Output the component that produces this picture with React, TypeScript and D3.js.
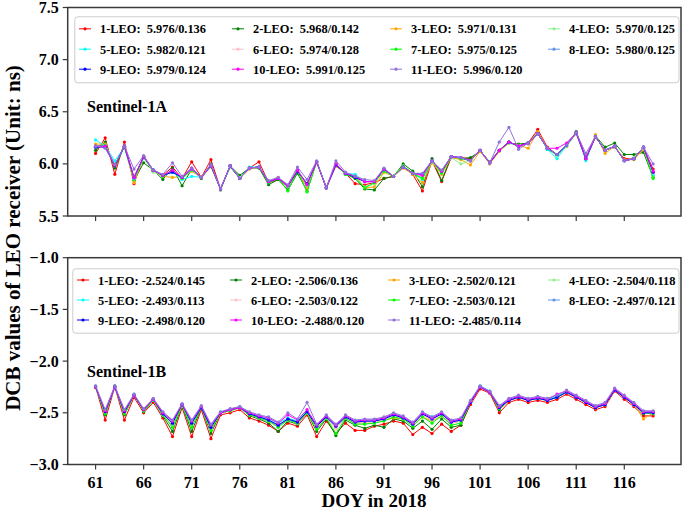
import React from 'react';
import * as d3 from 'd3';

const days = [61,62,63,64,65,66,67,68,69,70,71,72,73,74,75,76,77,78,79,80,81,82,83,84,85,86,87,88,89,90,91,92,93,94,95,96,97,98,99,100,101,102,103,104,105,106,107,108,109,110,111,112,113,114,115,116,117,118,119];
const xTicks = [61,66,71,76,81,86,91,96,101,106,111,116];
const topTicks = [5.5,6.0,6.5,7.0,7.5];
const botTicks = [-3.0,-2.5,-2.0,-1.5,-1.0];

const colors = ['#ff0000','#008000','#ffa500','#90ee90','#00ffff','#ffc0cb','#00ff00','#6495ed','#0000ff','#ff00ff','#9370db'];
const names = ['1-LEO','2-LEO','3-LEO','4-LEO','5-LEO','6-LEO','7-LEO','8-LEO','9-LEO','10-LEO','11-LEO'];
const topStats = ['5.976/0.136','5.968/0.142','5.971/0.131','5.970/0.125','5.982/0.121','5.974/0.128','5.975/0.125','5.980/0.125','5.979/0.124','5.991/0.125','5.996/0.120'];
const botStats = ['-2.524/0.145','-2.506/0.136','-2.502/0.121','-2.504/0.118','-2.493/0.113','-2.503/0.122','-2.503/0.121','-2.497/0.121','-2.498/0.120','-2.488/0.120','-2.485/0.114'];

// Sentinel-1A
const top1 = [6.10,6.25,5.90,6.21,5.81,6.07,5.93,5.89,5.97,5.86, 6.02,5.87,6.04,5.76,5.98,5.86,5.96,6.02,5.82,5.85, 5.78,5.92,5.78,6.02,5.77,5.98,5.91,5.81,5.80,5.82, 5.86,5.88,5.97,5.90,5.74,6.03,5.83,6.06,6.06,6.05, 6.12,6.01,6.13,6.21,6.17,6.20,6.33,6.16,6.09,6.18, 6.29,6.05,6.26,6.13,6.16,6.05,6.05,6.15,5.95];
const top2 = [6.13,6.21,5.96,6.17,5.84,6.01,5.94,5.85,5.96,5.79, 5.95,5.86,6.00,5.75,5.98,5.89,5.96,5.96,5.80,5.85, 5.75,5.91,5.74,6.02,5.77,6.00,5.90,5.86,5.76,5.75, 5.86,5.88,6.00,5.93,5.78,6.05,5.84,6.07,6.05,6.06, 6.12,6.02,6.13,6.20,6.19,6.20,6.30,6.14,6.09,6.17, 6.31,6.06,6.27,6.16,6.20,6.09,6.09,6.11,5.87];
const top3 = [6.19,6.19,5.98,6.17,5.82,6.06,5.93,5.88,5.87,5.88, 5.93,5.87,5.97,5.76,5.98,5.86,5.95,5.97,5.83,5.87, 5.79,5.93,5.77,6.01,5.78,5.98,5.91,5.89,5.77,5.78, 5.92,5.88,5.96,5.90,5.82,6.01,5.90,6.06,6.04,5.99, 6.12,6.00,6.12,6.20,6.18,6.15,6.31,6.15,6.08,6.17, 6.29,6.05,6.28,6.10,6.17,6.04,6.04,6.14,5.88];
const top4 = [6.16,6.18,6.00,6.16,5.85,6.06,5.92,5.89,5.92,5.87, 5.94,5.87,5.98,5.77,5.97,5.87,5.96,5.97,5.83,5.86, 5.78,5.93,5.79,6.01,5.78,5.99,5.90,5.88,5.78,5.81, 5.94,5.88,5.98,5.91,5.87,6.02,5.92,6.06,6.00,6.03, 6.13,6.01,6.13,6.20,6.17,6.19,6.29,6.15,6.08,6.17, 6.29,6.05,6.26,6.13,6.16,6.03,6.06,6.15,5.90];
const top5 = [6.23,6.17,6.03,6.16,5.86,6.06,5.94,5.89,5.92,5.85, 5.88,5.87,5.98,5.76,5.98,5.86,5.97,5.97,5.83,5.86, 5.79,5.94,5.80,6.02,5.77,5.99,5.91,5.90,5.83,5.83, 5.95,5.88,5.97,5.91,5.85,6.03,5.93,6.07,6.06,6.03, 6.13,6.01,6.13,6.21,6.17,6.20,6.29,6.14,6.05,6.18, 6.30,6.03,6.26,6.13,6.17,6.03,6.05,6.16,5.89];
const top6 = [6.16,6.18,5.99,6.17,5.86,6.06,5.94,5.89,5.93,5.87, 5.95,5.87,5.98,5.76,5.98,5.86,5.96,5.97,5.83,5.86, 5.79,5.94,5.80,6.02,5.77,5.99,5.91,5.88,5.82,5.83, 5.94,5.88,5.97,5.91,5.88,6.03,5.92,6.07,6.05,6.03, 6.13,6.01,6.13,6.21,6.17,6.19,6.29,6.15,6.09,6.18, 6.30,6.05,6.26,6.13,6.17,6.03,6.05,6.16,5.91];
const top7 = [6.17,6.18,5.98,6.16,5.85,6.06,5.94,5.88,5.93,5.86, 5.94,5.87,5.99,5.76,5.97,5.86,5.96,5.97,5.82,5.86, 5.74,5.93,5.73,6.02,5.77,5.99,5.90,5.87,5.77,5.82, 5.93,5.88,5.98,5.91,5.86,6.03,5.91,6.07,6.05,6.03, 6.13,6.01,6.13,6.21,6.17,6.20,6.29,6.15,6.09,6.18, 6.30,6.05,6.26,6.13,6.17,6.03,6.05,6.16,5.86];
const top8 = [6.17,6.17,5.99,6.17,5.86,6.07,5.94,5.89,5.93,5.87, 5.95,5.87,5.99,5.76,5.98,5.86,5.96,5.97,5.83,5.86, 5.79,5.94,5.80,6.02,5.77,5.99,5.91,5.88,5.83,5.83, 5.95,5.88,5.97,5.91,5.89,6.03,5.93,6.07,6.06,6.03, 6.13,6.01,6.13,6.21,6.17,6.20,6.29,6.15,6.09,6.18, 6.30,6.05,6.26,6.13,6.17,6.03,6.05,6.16,5.92];
const top9 = [6.16,6.16,5.98,6.17,5.87,6.07,5.94,5.89,5.92,5.87, 5.96,5.87,5.98,5.76,5.98,5.86,5.96,5.97,5.83,5.86, 5.79,5.93,5.81,6.02,5.77,5.99,5.91,5.87,5.83,5.83, 5.95,5.88,5.97,5.91,5.90,6.03,5.93,6.07,6.06,6.03, 6.13,6.01,6.13,6.21,6.17,6.20,6.29,6.15,6.09,6.18, 6.30,6.05,6.26,6.13,6.17,6.03,6.05,6.16,5.92];
const top10 = [6.17,6.17,5.99,6.17,5.87,6.07,5.94,5.89,5.94,5.87, 5.95,5.87,5.99,5.76,5.98,5.86,5.96,5.97,5.83,5.86, 5.79,5.94,5.80,6.02,5.77,6.00,5.91,5.88,5.83,5.83, 5.95,5.88,5.97,5.91,5.89,6.03,5.93,6.07,6.06,6.03, 6.13,6.01,6.13,6.21,6.17,6.20,6.29,6.15,6.15,6.20, 6.30,6.05,6.26,6.13,6.17,6.03,6.05,6.16,5.93];
const top11 = [6.17,6.15,5.99,6.17,5.95,6.08,5.94,5.90,6.01,5.88, 5.96,5.87,5.99,5.76,5.98,5.86,5.96,5.97,5.84,5.87, 5.80,5.97,5.85,6.03,5.77,6.03,5.92,5.88,5.85,5.84, 5.96,5.88,5.97,5.91,5.91,6.03,5.94,6.07,6.06,6.03, 6.13,6.01,6.21,6.35,6.14,6.20,6.29,6.15,6.09,6.18, 6.30,6.10,6.26,6.13,6.17,6.03,6.05,6.16,6.00];

// Sentinel-1B
const bot1 = [-2.25,-2.57,-2.25,-2.57,-2.35,-2.50,-2.40,-2.55,-2.73,-2.45, -2.73,-2.47,-2.75,-2.52,-2.50,-2.47,-2.55,-2.58,-2.62,-2.68, -2.60,-2.63,-2.52,-2.73,-2.58,-2.70,-2.60,-2.67,-2.67,-2.63, -2.61,-2.58,-2.60,-2.71,-2.64,-2.70,-2.61,-2.68,-2.62,-2.42, -2.27,-2.31,-2.50,-2.40,-2.37,-2.40,-2.38,-2.40,-2.37,-2.32, -2.37,-2.42,-2.47,-2.44,-2.29,-2.37,-2.44,-2.53,-2.53];
const bot2 = [-2.25,-2.52,-2.24,-2.52,-2.33,-2.49,-2.38,-2.53,-2.68,-2.43, -2.68,-2.45,-2.70,-2.50,-2.48,-2.45,-2.53,-2.56,-2.60,-2.68, -2.58,-2.61,-2.50,-2.68,-2.56,-2.72,-2.57,-2.62,-2.65,-2.62, -2.64,-2.56,-2.58,-2.65,-2.58,-2.66,-2.56,-2.64,-2.62,-2.40, -2.25,-2.30,-2.47,-2.38,-2.35,-2.38,-2.36,-2.38,-2.35,-2.30, -2.35,-2.40,-2.45,-2.42,-2.27,-2.35,-2.42,-2.51,-2.50];
const bot3 = [-2.26,-2.50,-2.25,-2.50,-2.33,-2.48,-2.38,-2.52,-2.62,-2.43, -2.62,-2.45,-2.66,-2.50,-2.48,-2.45,-2.52,-2.55,-2.58,-2.63, -2.57,-2.60,-2.50,-2.65,-2.55,-2.65,-2.55,-2.60,-2.60,-2.60, -2.57,-2.55,-2.56,-2.62,-2.54,-2.58,-2.53,-2.60,-2.58,-2.40, -2.25,-2.30,-2.45,-2.38,-2.35,-2.38,-2.36,-2.38,-2.35,-2.30, -2.35,-2.40,-2.45,-2.42,-2.28,-2.35,-2.42,-2.56,-2.50];
const bot4 = [-2.25,-2.50,-2.25,-2.50,-2.33,-2.48,-2.38,-2.52,-2.62,-2.43, -2.62,-2.45,-2.66,-2.50,-2.48,-2.45,-2.52,-2.55,-2.58,-2.63, -2.57,-2.60,-2.50,-2.65,-2.55,-2.65,-2.55,-2.60,-2.60,-2.60, -2.57,-2.53,-2.56,-2.62,-2.52,-2.57,-2.52,-2.60,-2.58,-2.40, -2.25,-2.30,-2.45,-2.38,-2.35,-2.38,-2.36,-2.38,-2.35,-2.30, -2.35,-2.40,-2.45,-2.42,-2.28,-2.35,-2.42,-2.50,-2.50];
const bot5 = [-2.24,-2.48,-2.25,-2.48,-2.32,-2.47,-2.37,-2.50,-2.58,-2.42, -2.58,-2.44,-2.62,-2.49,-2.47,-2.44,-2.50,-2.53,-2.56,-2.60, -2.55,-2.58,-2.48,-2.62,-2.53,-2.62,-2.53,-2.58,-2.57,-2.57, -2.55,-2.51,-2.54,-2.60,-2.50,-2.54,-2.50,-2.58,-2.56,-2.39, -2.24,-2.29,-2.44,-2.37,-2.34,-2.37,-2.35,-2.37,-2.34,-2.29, -2.34,-2.39,-2.44,-2.41,-2.27,-2.34,-2.41,-2.49,-2.49];
const bot6 = [-2.25,-2.50,-2.25,-2.50,-2.33,-2.48,-2.38,-2.52,-2.62,-2.43, -2.62,-2.45,-2.66,-2.50,-2.48,-2.45,-2.52,-2.55,-2.58,-2.63, -2.57,-2.60,-2.50,-2.65,-2.55,-2.65,-2.55,-2.60,-2.60,-2.60, -2.57,-2.53,-2.56,-2.62,-2.52,-2.57,-2.52,-2.60,-2.58,-2.40, -2.25,-2.30,-2.45,-2.38,-2.35,-2.38,-2.36,-2.38,-2.35,-2.30, -2.35,-2.40,-2.45,-2.42,-2.28,-2.35,-2.42,-2.50,-2.50];
const bot7 = [-2.25,-2.51,-2.25,-2.51,-2.33,-2.48,-2.38,-2.52,-2.64,-2.43, -2.64,-2.45,-2.67,-2.50,-2.48,-2.45,-2.52,-2.55,-2.58,-2.64, -2.57,-2.60,-2.50,-2.66,-2.55,-2.70,-2.55,-2.61,-2.61,-2.60, -2.58,-2.54,-2.56,-2.63,-2.54,-2.60,-2.53,-2.62,-2.60,-2.40, -2.25,-2.30,-2.46,-2.38,-2.35,-2.38,-2.36,-2.38,-2.35,-2.30, -2.35,-2.40,-2.45,-2.42,-2.28,-2.35,-2.42,-2.50,-2.51];
const bot8 = [-2.25,-2.49,-2.25,-2.49,-2.33,-2.47,-2.37,-2.51,-2.60,-2.42, -2.60,-2.45,-2.64,-2.50,-2.47,-2.45,-2.51,-2.54,-2.57,-2.62, -2.56,-2.59,-2.49,-2.63,-2.54,-2.63,-2.54,-2.59,-2.58,-2.58, -2.56,-2.52,-2.55,-2.61,-2.51,-2.56,-2.51,-2.59,-2.57,-2.40, -2.25,-2.30,-2.45,-2.38,-2.35,-2.38,-2.36,-2.38,-2.35,-2.30, -2.35,-2.40,-2.45,-2.42,-2.28,-2.35,-2.42,-2.50,-2.50];
const bot9 = [-2.25,-2.49,-2.25,-2.49,-2.33,-2.47,-2.37,-2.51,-2.60,-2.42, -2.60,-2.45,-2.64,-2.50,-2.47,-2.45,-2.51,-2.54,-2.57,-2.62, -2.56,-2.59,-2.49,-2.63,-2.54,-2.63,-2.54,-2.59,-2.58,-2.58, -2.56,-2.52,-2.55,-2.61,-2.51,-2.56,-2.51,-2.59,-2.57,-2.40, -2.25,-2.30,-2.45,-2.38,-2.35,-2.38,-2.36,-2.38,-2.35,-2.30, -2.35,-2.40,-2.45,-2.42,-2.28,-2.35,-2.42,-2.50,-2.50];
const bot10 = [-2.25,-2.48,-2.25,-2.48,-2.33,-2.47,-2.37,-2.50,-2.58,-2.42, -2.58,-2.44,-2.62,-2.50,-2.47,-2.45,-2.50,-2.53,-2.55,-2.60, -2.52,-2.57,-2.47,-2.62,-2.53,-2.62,-2.53,-2.58,-2.57,-2.57, -2.55,-2.51,-2.54,-2.60,-2.50,-2.55,-2.50,-2.58,-2.56,-2.39, -2.25,-2.30,-2.44,-2.37,-2.34,-2.37,-2.35,-2.37,-2.32,-2.29, -2.34,-2.39,-2.44,-2.41,-2.27,-2.34,-2.41,-2.49,-2.49];
const bot11 = [-2.24,-2.47,-2.24,-2.47,-2.32,-2.46,-2.36,-2.49,-2.57,-2.41, -2.57,-2.43,-2.61,-2.49,-2.46,-2.44,-2.49,-2.52,-2.54,-2.59, -2.50,-2.56,-2.40,-2.61,-2.52,-2.61,-2.52,-2.57,-2.56,-2.56, -2.54,-2.50,-2.53,-2.59,-2.49,-2.54,-2.49,-2.57,-2.55,-2.38, -2.24,-2.29,-2.43,-2.36,-2.33,-2.36,-2.34,-2.36,-2.33,-2.28, -2.33,-2.38,-2.43,-2.40,-2.26,-2.33,-2.40,-2.48,-2.48];

const topSeries = [top1,top2,top3,top4,top5,top6,top7,top8,top9,top10,top11];
const botSeries = [bot1,bot2,bot3,bot4,bot5,bot6,bot7,bot8,bot9,bot10,bot11];

const FONT = "'Liberation Serif', 'Times New Roman', serif";
const X0 = 67.7, X1 = 681;
const x = d3.scaleLinear().domain([58.1, 121.9]).range([X0, X1]);

type PanelProps = {
  series: number[][];
  stats: string[];
  sep: string;
  yTop: number; yBot: number;
  domain: [number, number];
  ticks: number[];
  title: string;
  titleY: number;
  legend: { top: number; bottom: number; left: number; right: number; rows: number[]; textX: number[] };
  showXLabels: boolean;
};

function Panel(p: PanelProps) {
  const y = d3.scaleLinear().domain(p.domain).range([p.yBot, p.yTop]);
  const line = d3.line<number>().x((_, i) => x(days[i])).y(v => y(v));
  const spine = '#3a3a3a';
  return (
    <g>
      {p.series.map((s, k) => (
        <g key={k}>
          <path d={line(s) || ''} fill="none" stroke={colors[k]} strokeWidth={1} />
          {s.map((v, i) => (
            <circle key={i} cx={x(days[i])} cy={y(v)} r={1.6} fill={colors[k]} />
          ))}
        </g>
      ))}
      <rect x={X0} y={p.yTop} width={X1 - X0} height={p.yBot - p.yTop} fill="none" stroke={spine} strokeWidth={1.5} />
      {p.ticks.map(t => (
        <g key={t}>
          <line x1={X0 - 5} x2={X0} y1={y(t)} y2={y(t)} stroke={spine} strokeWidth={1.2} />
          <text x={X0 - 9} y={y(t) + 5.5} textAnchor="end" fontSize={16} fontWeight="bold" fontFamily={FONT}>
            {t < 0 ? '\u2212' + Math.abs(t).toFixed(1) : t.toFixed(1)}
          </text>
        </g>
      ))}
      {xTicks.map(t => (
        <g key={t}>
          <line x1={x(t)} x2={x(t)} y1={p.yBot} y2={p.yBot + 5} stroke={spine} strokeWidth={1.2} />
          {p.showXLabels && (
            <text x={x(t)} y={p.yBot + 23} textAnchor="middle" fontSize={16} fontWeight="bold" fontFamily={FONT}>{t}</text>
          )}
        </g>
      ))}
      <rect x={p.legend.left} y={p.legend.top} width={p.legend.right - p.legend.left} height={p.legend.bottom - p.legend.top}
        rx={3} fill="#ffffff" fillOpacity={0.85} stroke="#cccccc" strokeWidth={1} />
      {names.map((n, k) => {
        const col = k % 4, row = Math.floor(k / 4);
        const tx = p.legend.textX[col];
        const cy = p.legend.rows[row];
        const mx = tx - 15;
        return (
          <g key={n}>
            <line x1={mx - 6} x2={mx + 6} y1={cy} y2={cy} stroke={colors[k]} strokeWidth={1} />
            <circle cx={mx} cy={cy} r={1.6} fill={colors[k]} />
            <text x={tx} y={cy + 4.5} fontSize={12.4} fontWeight="bold" fontFamily={FONT} style={{ whiteSpace: 'pre' }}>
              {n + ':' + p.sep + p.stats[k]}
            </text>
          </g>
        );
      })}
      <text x={87} y={p.titleY} fontSize={16} fontWeight="bold" fontFamily={FONT}>{p.title}</text>
    </g>
  );
}

export default function App() {
  return (
    <svg width={685} height={510} style={{ position: 'absolute', left: 0, top: 0, background: '#fff' }}>
      <rect x={0} y={0} width={685} height={510} fill="#fff" />
      <Panel series={topSeries} stats={topStats} sep={'\u00a0\u00a0'} yTop={7.5} yBot={216} domain={[5.5, 7.5]} ticks={topTicks}
        title="Sentinel-1A" titleY={112}
        legend={{ top: 16.8, bottom: 82.8, left: 74.8, right: 679, rows: [28.8, 49.2, 69.2], textX: [100, 253, 411, 569] }}
        showXLabels={false} />
      <Panel series={botSeries} stats={botStats} sep={' '} yTop={257.7} yBot={464.5} domain={[-3.0, -1.0]} ticks={botTicks}
        title="Sentinel-1B" titleY={377}
        legend={{ top: 268.8, bottom: 333.2, left: 72.8, right: 679, rows: [280, 300, 320], textX: [98, 251, 409, 569] }}
        showXLabels={true} />
      <text x={374} y={507} textAnchor="middle" fontSize={19} fontWeight="bold" fontFamily={FONT}>DOY in 2018</text>
      <text transform="translate(19.5,238) rotate(-90)" textAnchor="middle" fontSize={21} fontWeight="bold" fontFamily={FONT}>
        DCB values of LEO receiver (Unit: ns)
      </text>
    </svg>
  );
}
